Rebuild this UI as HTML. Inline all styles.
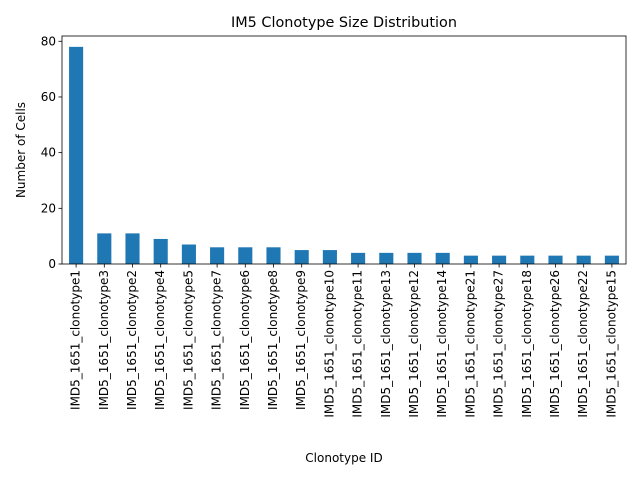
<!DOCTYPE html>
<html><head><meta charset="utf-8"><style>
body{margin:0;background:#fff;font-family:"Liberation Sans","DejaVu Sans",sans-serif;}
</style></head><body>
<svg id="chart" width="640" height="480" xmlns="http://www.w3.org/2000/svg" font-family="DejaVu Sans, Liberation Sans, sans-serif">
<rect width="640" height="480" fill="#fff"/>
<text x="344" y="27" font-size="14.4" text-anchor="middle">IM5 Clonotype Size Distribution</text>
<text x="344" y="462" font-size="12" text-anchor="middle">Clonotype ID</text>
<text transform="translate(25,150) rotate(-90)" font-size="12" text-anchor="middle">Number of Cells</text>
<g id="bars"></g><g id="ticks"></g>
<rect x="62" y="36" width="564" height="228" fill="none" stroke="#000" stroke-width="0.8"/>
</svg>
<script>
const categories=["IMD5_1651_clonotype1","IMD5_1651_clonotype3","IMD5_1651_clonotype2","IMD5_1651_clonotype4","IMD5_1651_clonotype5","IMD5_1651_clonotype7","IMD5_1651_clonotype6","IMD5_1651_clonotype8","IMD5_1651_clonotype9","IMD5_1651_clonotype10","IMD5_1651_clonotype11","IMD5_1651_clonotype13","IMD5_1651_clonotype12","IMD5_1651_clonotype14","IMD5_1651_clonotype21","IMD5_1651_clonotype27","IMD5_1651_clonotype18","IMD5_1651_clonotype26","IMD5_1651_clonotype22","IMD5_1651_clonotype15"];
const cellCounts=[78,11,11,9,7,6,6,6,5,5,4,4,4,4,3,3,3,3,3,3];
const yTicks=[0,20,40,60,80];
const NS="http://www.w3.org/2000/svg";
const L=62,R=626,T=36,B=264;
const ymax=Math.max(...cellCounts)*1.05;
const y=v=>B-(v/ymax)*(B-T);
const slot=(R-L)/categories.length;
const x=i=>L+slot*(i+0.5);
const bars=document.getElementById('bars'),ticks=document.getElementById('ticks');
function mk(t,a,p){const e=document.createElementNS(NS,t);for(const k in a)e.setAttribute(k,a[k]);p.appendChild(e);return e;}
cellCounts.forEach((v,i)=>{
 const r=mk('rect',{x:x(i)-slot/4,y:y(v),width:slot/2,height:B-y(v),fill:'#1f77b4'},bars);
 
 
 const tk=mk('line',{x1:x(i),x2:x(i),y1:B,y2:B+3.5,stroke:'#000','stroke-width':0.8},ticks);
 
 
 const tl=mk('text',{transform:`translate(${x(i)+3.5},${B+6}) rotate(-90)`,'font-size':12,'text-anchor':'end'},ticks);
 tl.textContent=categories[i];
 
 
});
yTicks.forEach(v=>{
 const tk=mk('line',{x1:L-3.5,x2:L,y1:y(v),y2:y(v),stroke:'#000','stroke-width':0.8},ticks);
 
 
 const tl=mk('text',{x:L-6,y:y(v)+4,'font-size':12,'text-anchor':'end'},ticks);
 tl.textContent=v;
 
 
});
</script>
</body></html>
